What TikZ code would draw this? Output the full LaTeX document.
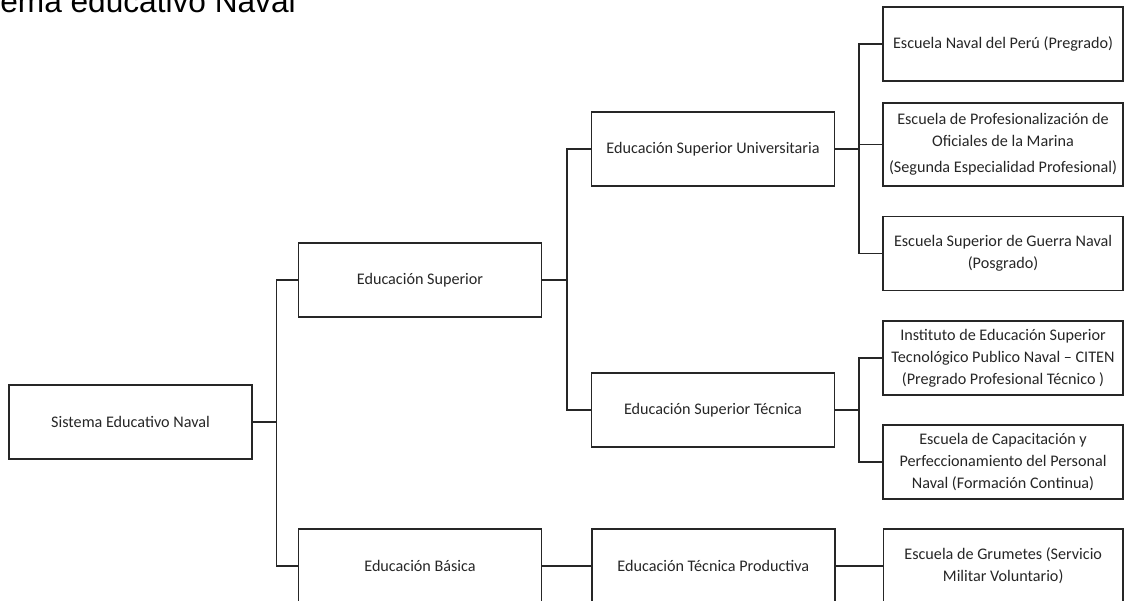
\documentclass[tikz,border=0pt]{standalone}
\usepackage{fontspec}
\setmainfont{Carlito}
\newfontfamily\titlefont{Liberation Sans}
\usepackage{tikz}
\usetikzlibrary{positioning}
\definecolor{lineGray}{HTML}{262626}
\definecolor{textGray}{HTML}{262626}

\begin{document}
\begin{tikzpicture}[
    x=0.02cm, y=-0.02cm,
    node distance=1cm,
    block/.style={rectangle, draw=lineGray, line width=0.8pt, minimum width=4.86cm, minimum height=1.48cm, inner xsep=2pt, align=center, text=textGray, font=\fontsize{9.2}{12.6}\selectfont},
    leaf/.style={block, minimum width=4.8cm},
    link/.style={draw=lineGray, line width=0.8pt},
]
    \clip (0,0) rectangle (1125,600);

    % Title (cut by the page edge)
    \node[anchor=base west, inner sep=0pt, font=\titlefont\fontsize{18}{21}\selectfont] (title) at (0,12) {ema educativo Naval};

    % Nodes
    \node[block] (sen) at (130.5,422) {Sistema Educativo Naval};
    \node[block] (esup) at (420,280) {Educación Superior};
    \node[block] (ebas) at (420,566) {Educación Básica};
    \node[block] (esu) at (713,149) {Educación Superior Universitaria};
    \node[block] (est) at (713,410) {Educación Superior Técnica};
    \node[block, right=0.98cm of ebas] (etp) {Educación Técnica Productiva};
    \node[leaf] (enp) at (1003,44) {Escuela Naval del Perú (Pregrado)};
    \node[leaf, minimum height=1.66cm] (epo) at (1003,144.5) {Escuela de Profesionalización de\\Oficiales de la Marina\\[2pt](Segunda Especialidad Profesional)};
    \node[leaf] (esg) at (1003,253.5) {Escuela Superior de Guerra Naval\\(Posgrado)};
    \node[leaf] (eis) at (1003,358) {Instituto de Educación Superior\\Tecnológico Publico Naval – CITEN\\(Pregrado Profesional Técnico )};
    \node[leaf] (ecp) at (1003,462) {Escuela de Capacitación y\\Perfeccionamiento del Personal\\Naval (Formación Continua)};
    \node[leaf, right=0.94cm of etp] (egr) {Escuela de Grumetes (Servicio\\Militar Voluntario)};

    % Lines
    \draw[link] (sen.east) -- ++(24,0) coordinate (j1) |- (esup.west);
    \draw[link] (j1) |- (ebas.west);
    \draw[link] (esup.east) -- ++(25,0) coordinate (j2) |- (esu.west);
    \draw[link] (j2) |- (est.west);
    \draw[link] (ebas) -- (etp);
    \draw[link] (esu.east) -- ++(24,0) coordinate (j3) |- (enp.west);
    \draw[link] (j3) |- (epo.west);
    \draw[link] (j3) |- (esg.west);
    \draw[link] (est.east) -- ++(24,0) coordinate (j4) |- (eis.west);
    \draw[link] (j4) |- (ecp.west);
    \draw[link] (etp) -- (egr);
\end{tikzpicture}
\end{document}
